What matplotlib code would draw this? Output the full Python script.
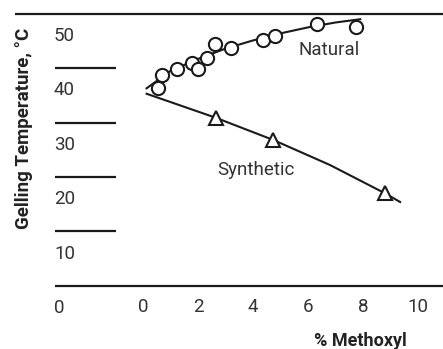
import matplotlib
matplotlib.use("Agg")
import matplotlib.pyplot as plt

# ---- data ----
natural_x = [0.56, 0.68, 1.22, 1.77, 2.01, 2.32, 2.62, 3.20, 4.37, 4.80, 6.32, 7.75]
natural_y = [40.2, 42.6, 43.7, 44.8, 43.8, 45.7, 48.3, 47.6, 49.1, 49.8, 52.0, 51.5]
natural_curve_x = [0.13, 1.0, 2.0, 3.0, 4.0, 5.0, 6.0, 7.0, 7.9]
natural_curve_y = [40.2, 43.4, 45.6, 47.5, 49.0, 50.3, 51.4, 52.3, 52.9]

synthetic_x = [2.64, 4.74, 8.80]
synthetic_y = [34.8, 30.7, 20.9]
synthetic_curve_x = [0.13, 2.64, 4.74, 6.8, 8.8, 9.35]
synthetic_curve_y = [39.2, 34.8, 30.7, 26.1, 20.9, 19.3]

y_tick_values = [50, 40, 30, 20, 10, 0]
x_tick_values = [0, 2, 4, 6, 8, 10]
divider_values = [44, 34, 24, 14]

W, H = 443, 349
fig = plt.figure(figsize=(W / 100, H / 100), dpi=100)
ax = fig.add_axes([0, 0, 1, 1])
ax.axis("off")

# pixel mapping: px = 143 + 27.5*x ; py(from top) = 35 + (50 - v)*5.44
x0 = -143 / 27.5
x1 = (W - 143) / 27.5
ytop = 50 + 35 / 5.44
ybot = 50 - (H - 35) / 5.44
ax.set_xlim(x0, x1)
ax.set_ylim(ybot, ytop)

def px2x(px):
    return (px - 143) / 27.5

def py2y(py):
    return 50 - (py - 35) / 5.44

ink = "#1a1a1a"
txt = "#333333"
font = "Roboto"
fs = 13.5

# frame lines
ax.plot([px2x(15), x1], [53.9, 53.9], color=ink, lw=1.6, solid_capstyle="butt")
ax.plot([px2x(55), x1], [3.9, 3.9], color=ink, lw=1.6, solid_capstyle="butt")
for v in divider_values:
    ax.plot([px2x(55), px2x(116)], [v - 0.1, v - 0.1], color=ink, lw=1.6, solid_capstyle="butt")

# curves
ax.plot(natural_curve_x, natural_curve_y, color=ink, lw=1.5, zorder=2)
ax.plot(synthetic_curve_x, synthetic_curve_y, color=ink, lw=1.5, zorder=2)

# markers
ax.plot(natural_x, natural_y, "o", ms=9.5, mfc="white", mec=ink, mew=1.5, zorder=3)
ax.plot(synthetic_x, synthetic_y, "^", ms=10, mfc="white", mec=ink, mew=1.5, zorder=3)

# tick labels (baseline placement)
for v in y_tick_values:
    ax.text(px2x(54), v - 7.0 / 5.44 + 0.2, str(v), ha="left", va="baseline",
            fontsize=fs, color=txt, family=font)
for xv in x_tick_values:
    ax.text(xv, py2y(312), str(xv), ha="center", va="baseline", fontsize=fs,
            color=txt, family=font)

# annotations
ax.text(px2x(298), py2y(55), "Natural", ha="left", va="baseline",
        fontsize=fs, color=txt, family=font)
ax.text(px2x(217), py2y(175), "Synthetic", ha="left", va="baseline",
        fontsize=fs, color=txt, family=font)

# axis labels
ax.text(px2x(360), py2y(346), "% Methoxyl", ha="center", va="baseline",
        fontsize=13, color="#222222", family=font, fontweight="bold")
ax.text(px2x(24), py2y(128), "Gelling Temperature, \u00b0C", ha="center",
        va="center", rotation=90, fontsize=13.5, color="#222222", family=font,
        fontweight="bold")

fig.savefig("out.png", dpi=100)
